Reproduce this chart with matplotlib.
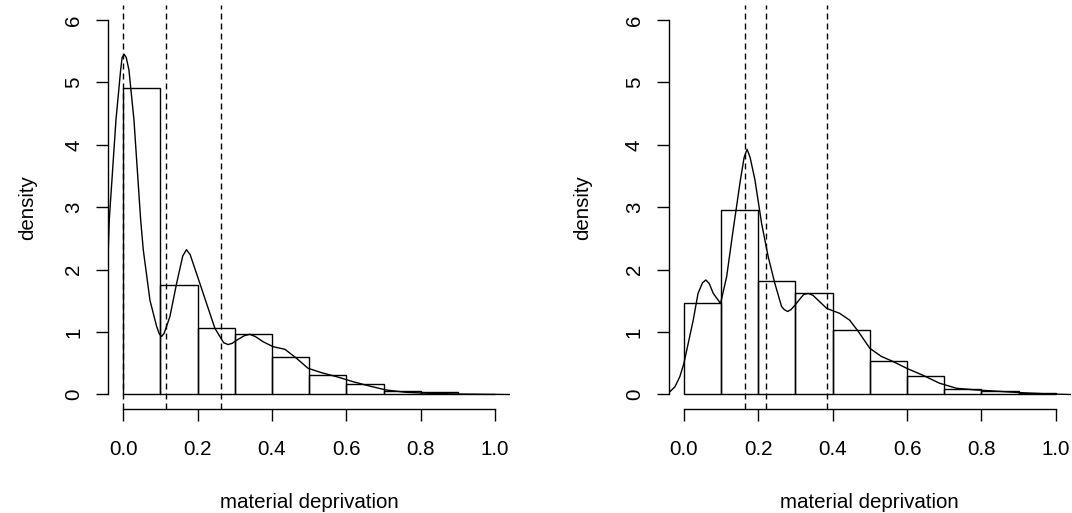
import matplotlib
matplotlib.use("Agg")
import matplotlib.pyplot as plt
import numpy as np

plt.rcParams['font.family'] = ['Liberation Sans', 'DejaVu Sans']

# ---------------- data ----------------
bin_edges = [0.0, 0.1, 0.2, 0.3, 0.4, 0.5, 0.6, 0.7, 0.8, 0.9, 1.0]

left_hist = [4.91, 1.755, 1.07, 0.97, 0.60, 0.32, 0.17, 0.06, 0.035, 0.01]
right_hist = [1.46, 2.96, 1.82, 1.63, 1.03, 0.54, 0.30, 0.09, 0.05, 0.02]

left_dens_x = [-0.040, -0.0376, -0.0196, -0.007, -0.003, 0.0027, 0.008, 0.0153,
               0.0288, 0.0468, 0.0538, 0.0718, 0.0898, 0.097, 0.103, 0.110,
               0.1255, 0.1435, 0.160, 0.170, 0.180, 0.197, 0.224, 0.2465,
               0.270, 0.282, 0.293, 0.305, 0.325, 0.340, 0.355, 0.376, 0.403,
               0.435, 0.466, 0.497, 0.533, 0.574, 0.618, 0.662, 0.707, 0.761,
               0.824, 0.90, 0.97, 1.00, 1.04]
left_dens_y = [2.37, 2.80, 4.40, 5.20, 5.40, 5.45, 5.40, 5.20,
               4.40, 2.80, 2.32, 1.51, 1.09, 0.97, 0.93, 0.98,
               1.25, 1.78, 2.22, 2.32, 2.24, 1.94, 1.46, 1.06,
               0.83, 0.80, 0.82, 0.87, 0.94, 0.965, 0.93, 0.846, 0.766,
               0.724, 0.58, 0.42, 0.35, 0.285, 0.205, 0.136, 0.072, 0.035,
               0.019, 0.008, 0.003, 0.002, 0.0]

right_dens_x = [-0.042, -0.024, -0.011, 0.0, 0.0116, 0.025, 0.038, 0.050, 0.059,
                0.068, 0.079, 0.0986, 0.115, 0.1325, 0.152, 0.162, 0.170, 0.178,
                0.191, 0.209, 0.2266, 0.2446, 0.2626, 0.270, 0.279, 0.288,
                0.2984, 0.316, 0.322, 0.334, 0.347, 0.361, 0.384, 0.419, 0.446,
                0.469, 0.500, 0.531, 0.562, 0.599, 0.642, 0.688, 0.733, 0.787,
                0.823, 0.903, 0.984, 1.04]
right_dens_y = [0.02, 0.125, 0.285, 0.50, 0.82, 1.19, 1.62, 1.79, 1.835,
                1.78, 1.62, 1.46, 1.89, 2.64, 3.44, 3.80, 3.93, 3.80,
                3.44, 2.74, 2.21, 1.78, 1.41, 1.36, 1.33, 1.36,
                1.43, 1.56, 1.60, 1.62, 1.59, 1.51, 1.38, 1.30, 1.19,
                1.01, 0.74, 0.61, 0.53, 0.42, 0.31, 0.18, 0.10, 0.072,
                0.06, 0.03, 0.008, 0.0]

left_vlines = [0.0, 0.115, 0.262]
right_vlines = [0.164, 0.222, 0.384]

x_ticks = [0.0, 0.2, 0.4, 0.6, 0.8, 1.0]
x_ticklabels = ["0.0", "0.2", "0.4", "0.6", "0.8", "1.0"]
y_ticks = [0, 1, 2, 3, 4, 5, 6]
y_ticklabels = ["0", "1", "2", "3", "4", "5", "6"]
x_label = "material deprivation"
y_label = "density"

# ---------------- drawing ----------------
FS = 14.8
LW = 1.0
fig = plt.figure(figsize=(10.72, 5.13), dpi=100)
fig.patch.set_facecolor("white")

panels = [
    ([0.1011, 0.2018, 0.3746, 0.7883], left_hist, left_dens_x, left_dens_y, left_vlines, -0.202),
    ([0.6241, 0.2018, 0.3746, 0.7883], right_hist, right_dens_x, right_dens_y, right_vlines, -0.216),
]

for pos, hist, dx, dy, vl, ylab_x in panels:
    ax = fig.add_axes(pos)
    widths = np.diff(bin_edges)
    ax.bar(bin_edges[:-1], hist, width=widths, align='edge', fill=False,
           edgecolor='black', linewidth=LW)
    ax.plot(dx, dy, color='black', linewidth=LW, solid_joinstyle='round')
    for v in vl:
        ax.axvline(v, color='black', linewidth=LW, linestyle=(0, (4.3, 2.9)))

    ax.set_xlim(-0.04, 1.04)
    ax.set_ylim(-0.24, 6.24)
    for s in ['top', 'right']:
        ax.spines[s].set_visible(False)
    ax.spines['left'].set_bounds(0, 6)
    ax.spines['bottom'].set_bounds(0, 1)
    ax.spines['left'].set_linewidth(LW)
    ax.spines['bottom'].set_linewidth(LW)

    ax.set_xticks(x_ticks)
    ax.set_xticklabels(x_ticklabels)
    ax.set_yticks(y_ticks)
    ax.set_yticklabels(y_ticklabels)
    ax.tick_params(axis='x', length=8.6, width=LW, pad=20.4, labelsize=FS)
    ax.tick_params(axis='y', length=8.6, width=LW, pad=16.3, labelsize=FS,
                   labelrotation=90)
    for lbl in ax.get_xticklabels():
        lbl.set_va('center')
    for lbl in ax.get_yticklabels():
        lbl.set_ha('center')
        lbl.set_va('center')

    ax.set_xlabel(x_label, fontsize=FS)
    ax.xaxis.set_label_coords(0.5, -0.229)
    ax.xaxis.label.set_va('center')
    ax.set_ylabel(y_label, fontsize=FS)
    ax.yaxis.set_label_coords(ylab_x, 0.5)
    ax.yaxis.label.set_va('center')

fig.savefig("out.png", dpi=100, facecolor="white")
